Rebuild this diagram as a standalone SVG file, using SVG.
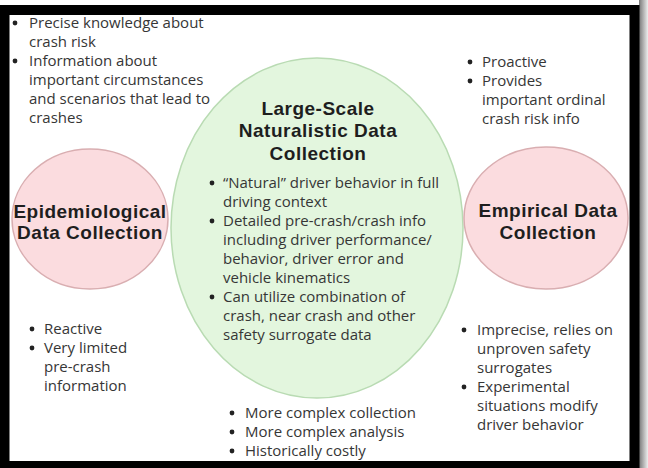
<svg xmlns="http://www.w3.org/2000/svg" width="648" height="468" viewBox="0 0 648 468">
  <defs>
    <style>
      .txt { font-family: "Open Sans", "Noto Sans", "Liberation Sans", sans-serif; font-size: 15px; font-weight: 500; fill: #363636; }
      .dot { fill: #222; }
      .title { font-family: "Liberation Sans", Arial, sans-serif; font-size: 19px; font-weight: bold; letter-spacing: 0.5px; fill: #1e1e1e; text-anchor: middle; }
      .pink { fill: #fbdcdf; stroke: #d9aeb1; stroke-width: 1.5; }
      .green { fill: #e3f6de; stroke: #b9dbb3; stroke-width: 1.5; }
    </style>
    <linearGradient id="shadowR" x1="0" y1="0" x2="1" y2="0">
      <stop offset="0" stop-color="#777"/>
      <stop offset="1" stop-color="#eee"/>
    </linearGradient>
  </defs>

  <!-- page background and frame -->
  <rect x="0" y="0" width="648" height="468" fill="#ffffff"/>
  <rect x="639" y="0" width="9" height="468" fill="url(#shadowR)"/>
  <rect x="4.5" y="10" width="630" height="456" fill="#ffffff" stroke="#000000" stroke-width="10"/>

  <!-- central node -->
  <g id="naturalistic">
    <ellipse class="green" cx="317" cy="228" rx="146" ry="170"/>
    <text class="title" x="318" y="115">Large-Scale</text>
    <text class="title" x="318" y="137">Naturalistic Data</text>
    <text class="title" x="318" y="160">Collection</text>
    <g class="dot">
      <circle cx="212" cy="183" r="2.4"/>
      <circle cx="212" cy="221" r="2.4"/>
      <circle cx="212" cy="297" r="2.4"/>
    </g>
    <g class="txt">
      <text x="223" y="188">“Natural” driver behavior in full</text>
      <text x="223" y="207">driving context</text>
      <text x="223" y="226">Detailed pre-crash/crash info</text>
      <text x="223" y="245">including driver performance/</text>
      <text x="223" y="264">behavior, driver error and</text>
      <text x="223" y="283">vehicle kinematics</text>
      <text x="223" y="302">Can utilize combination of</text>
      <text x="223" y="321">crash, near crash and other</text>
      <text x="223" y="340">safety surrogate data</text>
    </g>
  </g>

  <!-- left node -->
  <g id="epidemiological">
    <ellipse class="pink" cx="90" cy="219" rx="78" ry="70"/>
    <text class="title" x="90" y="217.5">Epidemiological</text>
    <text class="title" x="90" y="239">Data Collection</text>
  </g>

  <!-- right node -->
  <g id="empirical">
    <ellipse class="pink" cx="546" cy="218" rx="82" ry="71"/>
    <text class="title" x="548" y="217">Empirical Data</text>
    <text class="title" x="548" y="239">Collection</text>
  </g>

  <!-- notes around the nodes -->
  <g id="notes-top-left">
    <g class="dot">
      <circle cx="15" cy="23" r="2.4"/>
      <circle cx="15" cy="61" r="2.4"/>
    </g>
    <g class="txt">
      <text x="29" y="28">Precise knowledge about</text>
      <text x="29" y="47">crash risk</text>
      <text x="29" y="66">Information about</text>
      <text x="29" y="85">important circumstances</text>
      <text x="29" y="104">and scenarios that lead to</text>
      <text x="29" y="123">crashes</text>
    </g>
  </g>

  <g id="notes-top-right">
    <g class="dot">
      <circle cx="470" cy="62" r="2.4"/>
      <circle cx="470" cy="81" r="2.4"/>
    </g>
    <g class="txt">
      <text x="482" y="67">Proactive</text>
      <text x="482" y="86">Provides</text>
      <text x="482" y="105">important ordinal</text>
      <text x="482" y="124">crash risk info</text>
    </g>
  </g>

  <g id="notes-bottom-left">
    <g class="dot">
      <circle cx="32" cy="329" r="2.4"/>
      <circle cx="32" cy="348" r="2.4"/>
    </g>
    <g class="txt">
      <text x="44" y="334">Reactive</text>
      <text x="44" y="353">Very limited</text>
      <text x="44" y="372">pre-crash</text>
      <text x="44" y="391">information</text>
    </g>
  </g>

  <g id="notes-bottom-center">
    <g class="dot">
      <circle cx="232" cy="413" r="2.4"/>
      <circle cx="232" cy="432" r="2.4"/>
      <circle cx="232" cy="451" r="2.4"/>
    </g>
    <g class="txt">
      <text x="245" y="418">More complex collection</text>
      <text x="245" y="437">More complex analysis</text>
      <text x="245" y="456">Historically costly</text>
    </g>
  </g>

  <g id="notes-bottom-right">
    <g class="dot">
      <circle cx="464" cy="330" r="2.4"/>
      <circle cx="464" cy="387" r="2.4"/>
    </g>
    <g class="txt">
      <text x="477" y="335">Imprecise, relies on</text>
      <text x="477" y="354">unproven safety</text>
      <text x="477" y="373">surrogates</text>
      <text x="477" y="392">Experimental</text>
      <text x="477" y="411">situations modify</text>
      <text x="477" y="430">driver behavior</text>
    </g>
  </g>

  <!-- no connectors are drawn between the nodes -->
  <g id="connectors"/>
</svg>
